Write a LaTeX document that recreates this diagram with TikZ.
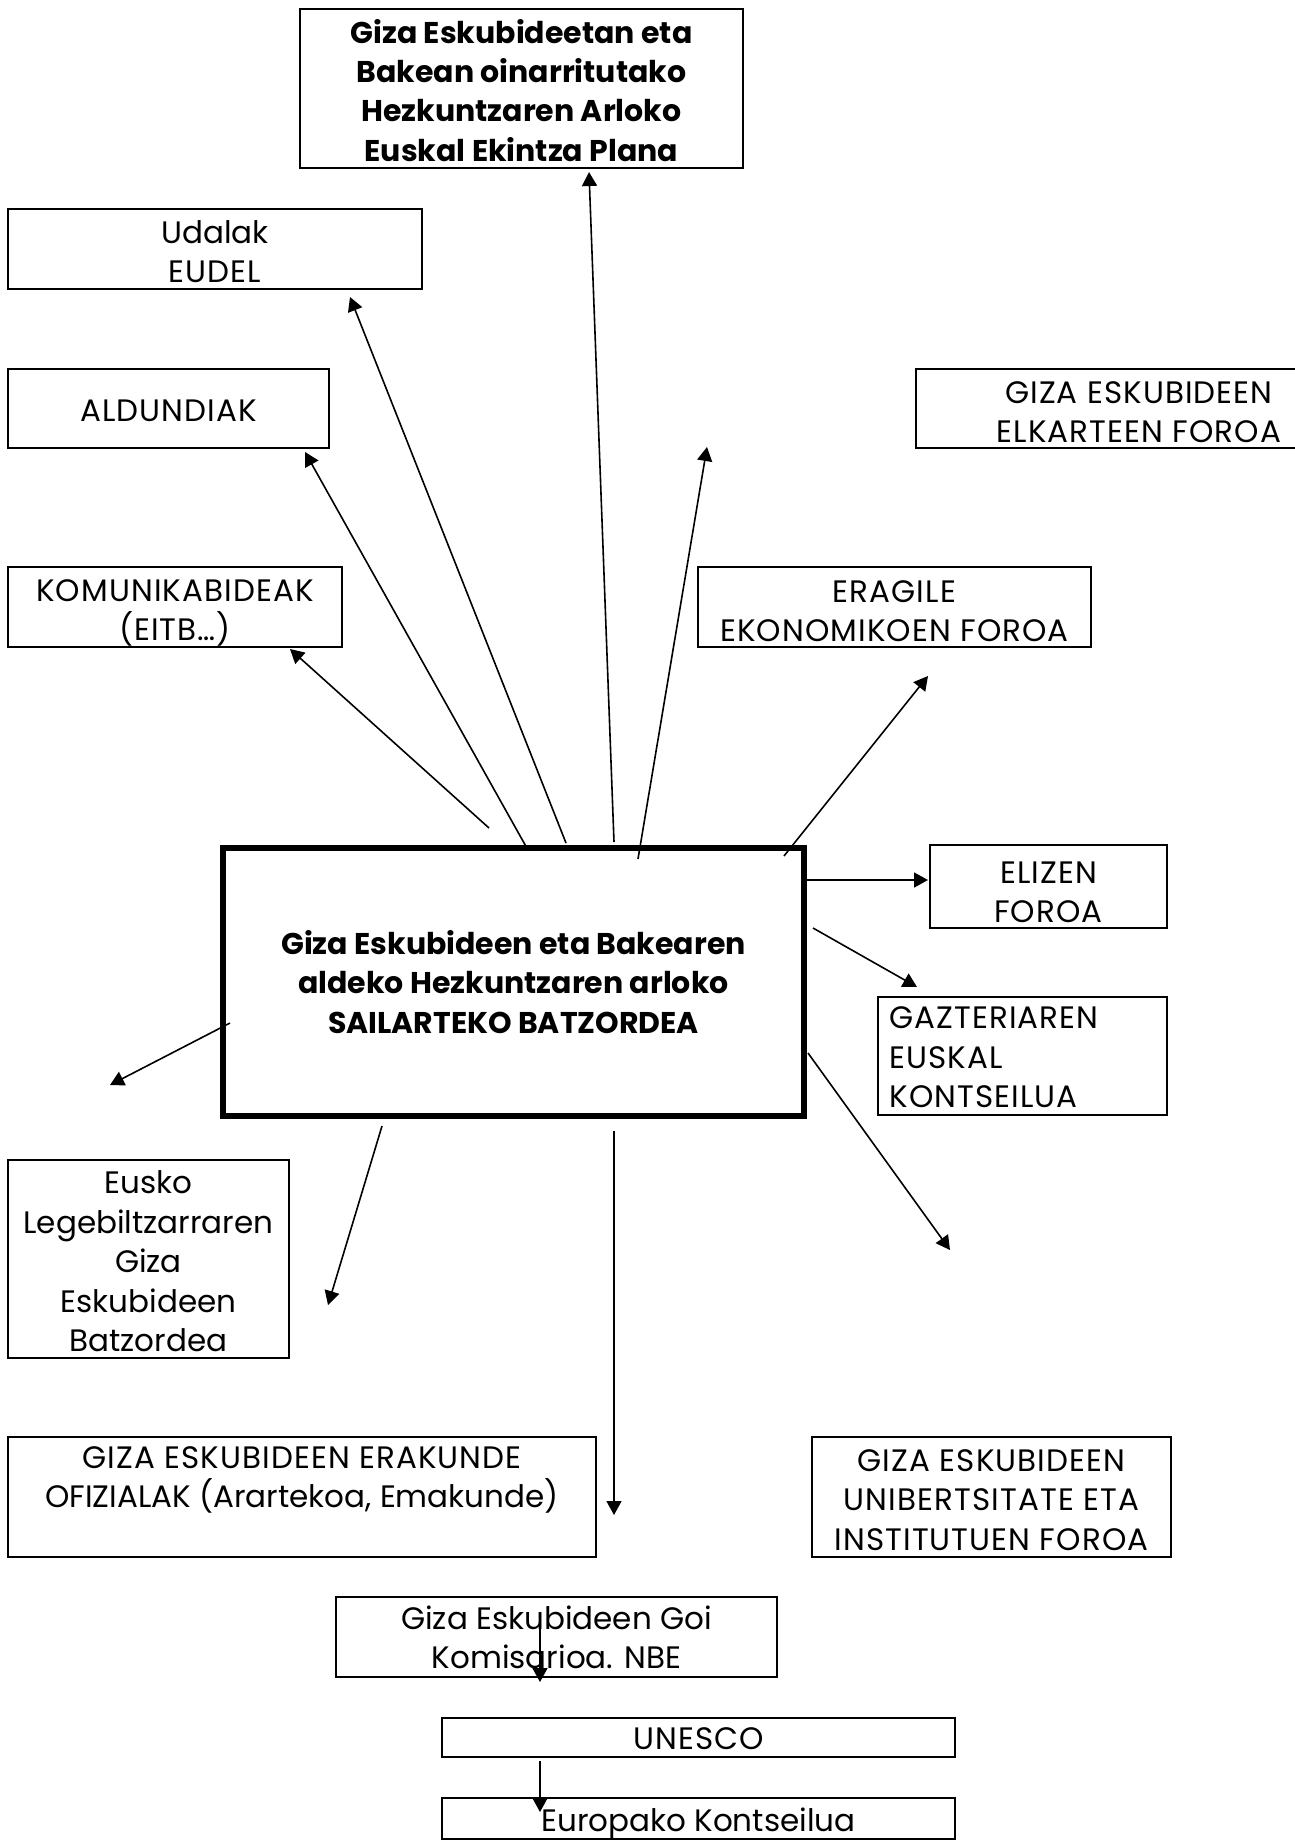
\documentclass[tikz,border=0pt]{standalone}
\usepackage{fontspec}
\setmainfont{Poppins}
\newfontfamily\capsfont[LetterSpace=3.5]{Poppins}
\usetikzlibrary{arrows.meta}
\newcommand{\txtfont}{\fontsize{15.5pt}{19.7pt}\selectfont}
\newcommand{\boldtxt}{\fontsize{15pt}{19.7pt}\selectfont\bfseries}
\tikzset{
  frame/.style={draw, line width=1pt, inner sep=0pt},
  bigframe/.style={frame, line width=3pt},
  lbl/.style={inner sep=0pt, align=center, font=\txtfont},
  capslbl/.style={lbl, font=\txtfont\capsfont},
  boldlbl/.style={lbl, font=\boldtxt},
  arr/.style={line width=0.8pt, -{Triangle[length=7pt,width=7.5pt]}},
}
\begin{document}
\begin{tikzpicture}[x=0.5pt, y=-0.5pt]
\clip (0,0) rectangle (1295,1843);
\fill[white] (0,0) rectangle (1295,1843);

% boxes
\node[frame, minimum width=221.5pt, minimum height=79.5pt] (plan) at (521.5,88.5) {};
\node[frame, minimum width=207pt, minimum height=40pt] (udal) at (215,249) {};
\node[frame, minimum width=160.5pt, minimum height=39.5pt] (ald) at (168.5,408.5) {};
\node[frame, minimum width=223pt, minimum height=39.5pt] (elk) at (1139,408.5) {};
\node[frame, minimum width=167pt, minimum height=40pt] (kom) at (175,607) {};
\node[frame, minimum width=196.5pt, minimum height=40pt] (era) at (894.5,607) {};
\node[bigframe, minimum width=290.5pt, minimum height=134pt] (sail) at (513.5,982) {};
\node[frame, minimum width=118.5pt, minimum height=41.5pt] (eliz) at (1048.5,886.5) {};
\node[frame, minimum width=144.5pt, minimum height=59pt] (gazt) at (1022.5,1056) {};
\node[frame, minimum width=140.5pt, minimum height=99pt] (leg) at (148.5,1259) {};
\node[frame, minimum width=294pt, minimum height=60pt] (ofiz) at (302,1497) {};
\node[frame, minimum width=179.5pt, minimum height=60pt] (unib) at (991.5,1497) {};
\node[frame, minimum width=220.5pt, minimum height=40pt] (goi) at (556.5,1637) {};
\node[frame, minimum width=256.5pt, minimum height=19.5pt] (unesco) at (698.5,1737.5) {};
\node[frame, minimum width=256.5pt, minimum height=20.5pt] (euro) at (698.5,1818.5) {};

% texts
\node[boldlbl, yshift=-0.9pt] (plan-t) at (plan.center)
  {Giza Eskubideetan eta\\Bakean oinarritutako\\Hezkuntzaren Arloko\\Euskal Ekintza Plana};
\node[lbl, yshift=-1.2pt] (udal-t) at (udal.center) {Udalak\\{\capsfont EUDEL}};
\node[capslbl, yshift=-1.2pt] (ald-t) at (ald.center) {ALDUNDIAK};
\node[capslbl, yshift=-1.8pt] (elk-t) at (elk.center) {GIZA ESKUBIDEEN\\ELKARTEEN FOROA};
\node[capslbl, yshift=-3pt] (kom-t) at (kom.center) {KOMUNIKABIDEAK\\(EITB…)};
\node[capslbl, yshift=-2pt] (era-t) at (era.center) {ERAGILE\\EKONOMIKOEN FOROA};
\node[boldlbl] (sail-t) at (sail.center)
  {Giza Eskubideen eta Bakearen\\aldeko Hezkuntzaren arloko\\SAILARTEKO BATZORDEA};
\node[capslbl, yshift=-3pt] (eliz-t) at (eliz.center) {ELIZEN\\FOROA};
\node[capslbl, align=left, anchor=west, xshift=6pt, yshift=-0.6pt] (gazt-t) at (gazt.west)
  {GAZTERIAREN\\EUSKAL\\KONTSEILUA};
\node[lbl, yshift=-1.2pt] (leg-t) at (leg.center)
  {Eusko\\Legebiltzarraren\\Giza\\Eskubideen\\Batzordea};
\node[lbl, yshift=8.5pt] (ofiz-t) at (ofiz.center)
  {{\capsfont GIZA ESKUBIDEEN ERAKUNDE}\\OFIZIALAK (Arartekoa, Emakunde)};
\node[capslbl, yshift=-1.5pt] (unib-t) at (unib.center)
  {GIZA ESKUBIDEEN\\UNIBERTSITATE ETA\\INSTITUTUEN FOROA};
\node[lbl, yshift=-0.3pt] (goi-t) at (goi.center) {Giza Eskubideen Goi\\Komisarioa. NBE};
\node[capslbl, yshift=-0.6pt] (unesco-t) at (unesco.center) {UNESCO};
\node[lbl, yshift=-2.4pt] (euro-t) at (euro.center) {Europako Kontseilua};

% connector end points
\coordinate (a0) at (614,842);  \coordinate (a1) at (589,172);
\coordinate (b0) at (566,843);  \coordinate (b1) at (350,297);
\coordinate (c0) at (528,850);  \coordinate (c1) at (305,452);
\coordinate (d0) at (489,828);  \coordinate (d1) at (290,649);
\coordinate (e0) at (638,859);  \coordinate (e1) at (707,447);
\coordinate (f0) at (784,856);  \coordinate (f1) at (928,676);
\coordinate (g0) at (807,880);  \coordinate (g1) at (928,880);
\coordinate (h0) at (813,928);  \coordinate (h1) at (917,987);
\coordinate (i0) at (808,1053); \coordinate (i1) at (950,1250);
\coordinate (j0) at (230,1023); \coordinate (j1) at (110,1085);
\coordinate (k0) at (382,1126); \coordinate (k1) at (328,1305);
\coordinate (l0) at (614,1131); \coordinate (l1) at (614,1515);
\coordinate (m0) at (540,1618); \coordinate (m1) at (540,1682);
\coordinate (n0) at (540,1761); \coordinate (n1) at (540,1812);

\draw[arr] (a0) -- (a1);
\draw[arr] (b0) -- (b1);
\draw[arr] (c0) -- (c1);
\draw[arr] (d0) -- (d1);
\draw[arr] (e0) -- (e1);
\draw[arr] (f0) -- (f1);
\draw[arr] (g0) -- (g1);
\draw[arr] (h0) -- (h1);
\draw[arr] (i0) -- (i1);
\draw[arr] (j0) -- (j1);
\draw[arr] (k0) -- (k1);
\draw[arr] (l0) -- (l1);
\draw[arr] (m0) -- (m1);
\draw[arr] (n0) -- (n1);
\end{tikzpicture}
\end{document}
